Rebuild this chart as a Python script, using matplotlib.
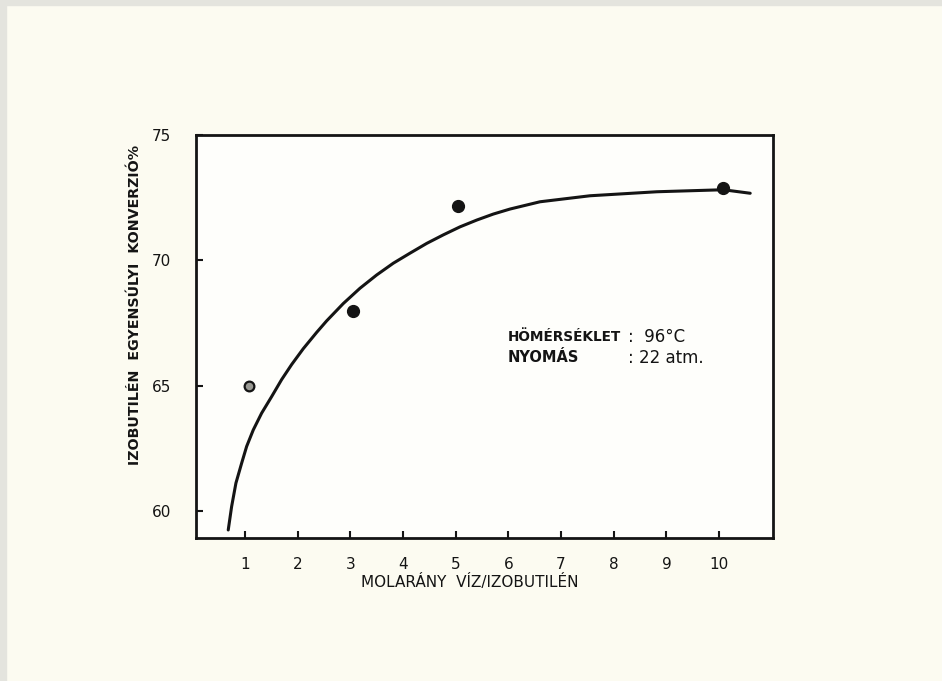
import matplotlib
matplotlib.use("Agg")
import matplotlib.pyplot as plt
from matplotlib.patches import Rectangle

# measured points
meas_x = [1.08, 3.06, 5.05, 10.08]
meas_y = [65.0, 67.99, 72.18, 72.87]

# hand-drawn fitted curve
curve_x = [0.683, 0.747, 0.829, 0.937, 1.032, 1.158, 1.317, 1.507, 1.697,
           1.887, 2.107, 2.361, 2.551, 2.866, 3.183, 3.500, 3.816, 4.133,
           4.450, 4.765, 5.082, 5.399, 5.714, 6.031, 6.60, 7.55, 8.82,
           10.08, 10.59]
curve_y = [59.24, 60.17, 61.11, 61.90, 62.57, 63.23, 63.90, 64.56, 65.24,
           65.84, 66.47, 67.12, 67.58, 68.27, 68.88, 69.41, 69.88, 70.28,
           70.67, 71.01, 71.33, 71.60, 71.84, 72.04, 72.33, 72.57, 72.73,
           72.81, 72.67]

x_ticks = list(range(1, 11))
y_ticks = [60, 65, 70, 75]

paper = "#fcfbf1"
ink = "#141414"

fig = plt.figure(figsize=(9.42, 6.81), dpi=100, facecolor=paper)
# scanner edge
fig.patches.append(Rectangle((0, 0.992), 1, 0.008, transform=fig.transFigure,
                             color="#e4e4de", zorder=0))
fig.patches.append(Rectangle((0, 0), 0.006, 1, transform=fig.transFigure,
                             color="#e4e4de", zorder=0))

ax = fig.add_axes([0.208, 0.210, 0.613, 0.592])
ax.set_facecolor("#fefefb")

ax.plot(curve_x, curve_y, color=ink, lw=2.2, solid_capstyle="round",
        solid_joinstyle="round")
ax.plot(meas_x[:1], meas_y[:1], "o", ms=7, mfc="#9a9a94", mec=ink, mew=1.6)
ax.plot(meas_x[1:], meas_y[1:], "o", ms=8.5, color=ink)

ax.set_xlim(0.07, 11.03)
ax.set_ylim(58.92, 75.0)
ax.set_xticks(x_ticks)
ax.set_yticks(y_ticks)
ax.tick_params(direction="in", length=5, width=1.5, colors=ink,
               labelsize=11)
ax.tick_params(axis="x", pad=14)
ax.tick_params(axis="y", pad=18)
for s in ax.spines.values():
    s.set_linewidth(2)
    s.set_color(ink)

fig.text(0.4985, 0.145, "MOLARÁNY  VÍZ/IZOBUTILÉN", ha="center", va="center",
         fontsize=11, color=ink)
fig.text(0.143, 0.552, "IZOBUTILÉN  EGYENSÚLYI  KONVERZIÓ%", ha="center",
         va="center", rotation=90, fontsize=10.3, fontweight="bold", color=ink)

ax.text(5.99, 66.94, "HÖMÉRSÉKLET", fontsize=9.8, fontweight="bold",
        color=ink, va="center")
ax.text(8.27, 66.94, ":  96°C", fontsize=12, color=ink, va="center")
ax.text(5.99, 66.1, "NYOMÁS", fontsize=10.5, fontweight="bold", color=ink,
        va="center")
ax.text(8.27, 66.1, ": 22 atm.", fontsize=12, color=ink, va="center")

fig.savefig("out.png", dpi=100, facecolor=fig.get_facecolor())
